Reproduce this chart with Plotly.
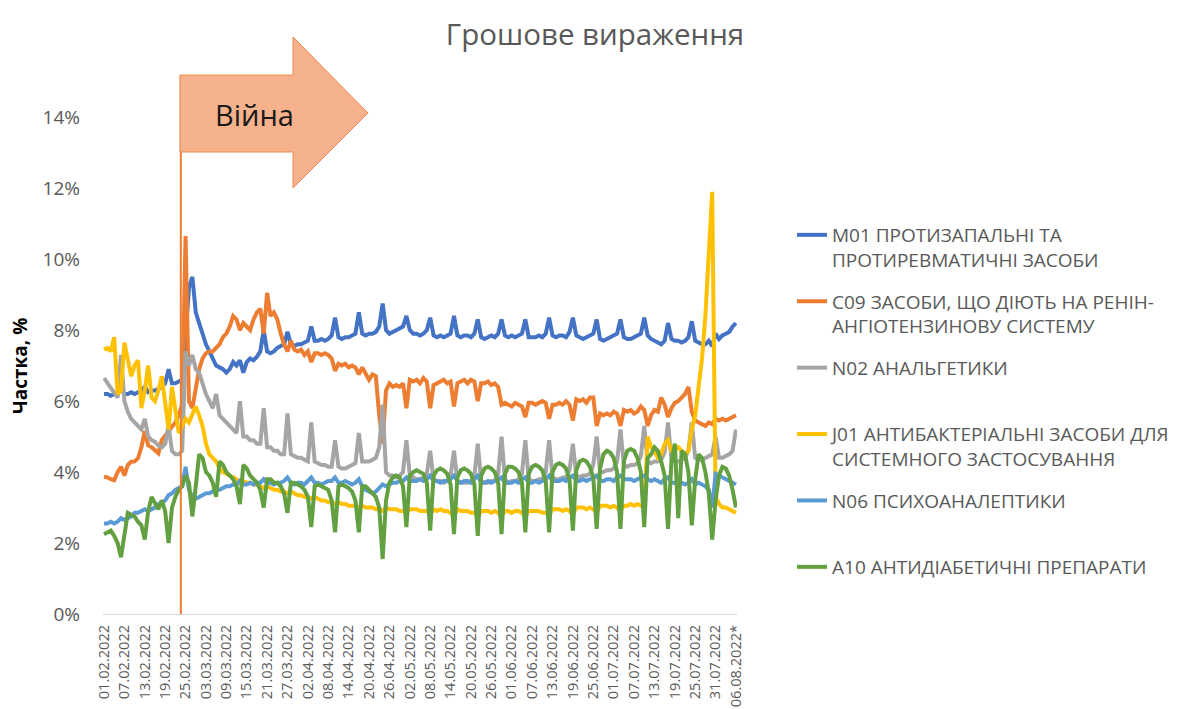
import pandas as pd
import plotly.graph_objects as go

# ---------------- data ----------------
DATES = [d.strftime("%d.%m.%Y") for d in pd.date_range("2022-02-01", "2022-08-06", freq="D")]
DATES[-1] = DATES[-1] + "*"

TICK_LABELS = ["01.02.2022", "07.02.2022", "13.02.2022", "19.02.2022", "25.02.2022", "03.03.2022",
               "09.03.2022", "15.03.2022", "21.03.2022", "27.03.2022", "02.04.2022", "08.04.2022",
               "14.04.2022", "20.04.2022", "26.04.2022", "02.05.2022", "08.05.2022", "14.05.2022",
               "20.05.2022", "26.05.2022", "01.06.2022", "07.06.2022", "13.06.2022", "19.06.2022",
               "25.06.2022", "01.07.2022", "07.07.2022", "13.07.2022", "19.07.2022", "25.07.2022",
               "31.07.2022", "06.08.2022*"]

M01 = [6.20, 6.20, 6.15, 6.20, 6.25, 6.35, 6.20,
       6.20, 6.25, 6.20, 6.25, 6.30, 6.40, 6.25,
       6.30, 6.30, 6.35, 6.40, 6.50, 6.90, 6.50,
       6.50, 6.55, 6.60, 7.80, 9.20, 9.50, 8.50,
       8.20, 7.90, 7.60, 7.40, 7.20, 7.00, 6.95,
       6.90, 6.80, 6.90, 7.10, 7.00, 7.15, 6.80,
       7.10, 7.20, 7.15, 7.25, 7.40, 8.00, 7.40,
       7.35, 7.40, 7.50, 7.55, 7.60, 7.95, 7.60,
       7.55, 7.60, 7.60, 7.65, 7.70, 8.10, 7.70,
       7.70, 7.75, 7.70, 7.75, 7.85, 8.35, 7.80,
       7.75, 7.80, 7.80, 7.85, 7.90, 8.50, 7.90,
       7.85, 7.90, 7.90, 7.95, 8.10, 8.75, 8.00,
       7.90, 7.95, 8.00, 8.05, 8.10, 8.40, 8.00,
       7.90, 7.90, 7.85, 7.90, 8.00, 8.35, 7.85,
       7.80, 7.85, 7.80, 7.85, 7.90, 8.40, 7.85,
       7.80, 7.85, 7.85, 7.80, 7.90, 8.30, 7.80,
       7.75, 7.80, 7.85, 7.80, 7.90, 8.30, 7.85,
       7.80, 7.85, 7.80, 7.85, 7.90, 8.30, 7.80,
       7.80, 7.80, 7.85, 7.80, 7.90, 8.35, 7.85,
       7.80, 7.85, 7.85, 7.80, 7.95, 8.35, 7.85,
       7.80, 7.75, 7.80, 7.85, 7.90, 8.30, 7.75,
       7.70, 7.75, 7.80, 7.85, 7.90, 8.30, 7.80,
       7.75, 7.75, 7.80, 7.85, 7.90, 8.35, 7.85,
       7.75, 7.70, 7.65, 7.60, 7.70, 8.20, 7.75,
       7.70, 7.70, 7.65, 7.70, 7.80, 8.25, 7.70,
       7.65, 7.60, 7.60, 7.70, 7.55, 7.90, 7.75,
       7.85, 7.90, 7.95, 8.10, 8.20]

C09 = [3.87, 3.85, 3.80, 3.77, 4.00, 4.15, 3.90,
       4.20, 4.29, 4.30, 4.39, 4.70, 5.15, 4.75,
       4.70, 4.62, 4.53, 4.90, 5.05, 5.15, 5.28,
       5.40, 5.60, 5.90, 10.65, 6.00, 5.80, 6.40,
       6.90, 7.20, 7.35, 7.40, 7.40, 7.50, 7.60,
       7.80, 7.90, 8.10, 8.40, 8.30, 8.00, 8.20,
       8.10, 8.00, 8.30, 8.50, 8.60, 7.90, 9.05,
       8.40, 8.50, 8.30, 7.90, 7.60, 7.40, 7.70,
       7.45, 7.40, 7.45, 7.30, 7.40, 7.10, 7.35,
       7.35, 7.30, 7.35, 7.30, 7.20, 6.85, 7.05,
       7.00, 7.05, 6.95, 7.00, 6.95, 6.75, 6.95,
       6.80, 6.60, 6.75, 6.70, 5.60, 4.80, 6.30,
       6.50, 6.40, 6.45, 6.40, 6.50, 5.80, 6.60,
       6.55, 6.60, 6.50, 6.65, 6.55, 5.80, 6.45,
       6.50, 6.55, 6.60, 6.50, 6.55, 5.85, 6.50,
       6.55, 6.60, 6.50, 6.60, 6.55, 6.00, 6.50,
       6.50, 6.55, 6.45, 6.50, 6.40, 5.90, 5.95,
       5.90, 5.85, 5.95, 5.90, 5.85, 5.55, 5.95,
       5.95, 5.90, 5.95, 6.00, 5.95, 5.50, 5.90,
       5.90, 5.95, 5.90, 6.00, 5.90, 5.45, 6.05,
       6.00, 6.05, 5.95, 6.10, 6.10, 5.30, 5.65,
       5.60, 5.65, 5.60, 5.70, 5.65, 5.30, 5.75,
       5.70, 5.75, 5.65, 5.70, 5.85, 5.75, 5.30,
       5.60, 5.75, 5.70, 6.10, 5.90, 5.55, 5.80,
       5.95, 6.00, 6.10, 6.20, 6.40, 5.70, 5.45,
       5.40, 5.35, 5.30, 5.40, 5.35, 5.50, 5.45,
       5.50, 5.45, 5.50, 5.55, 5.60]

N02 = [6.65, 6.50, 6.40, 6.20, 6.10, 7.30, 6.00,
       5.70, 5.50, 5.40, 5.30, 5.20, 5.50, 5.00,
       4.90, 4.85, 4.75, 4.70, 4.80, 5.30, 4.60,
       4.50, 4.50, 4.60, 7.40, 7.00, 7.30, 6.90,
       6.80, 6.50, 6.20, 6.00, 5.80, 6.20, 5.60,
       5.50, 5.40, 5.30, 5.20, 5.10, 6.00, 5.00,
       5.00, 4.90, 4.90, 4.80, 4.80, 5.80, 4.70,
       4.70, 4.60, 4.60, 4.50, 4.50, 5.65, 4.50,
       4.45, 4.40, 4.40, 4.35, 4.30, 5.40, 4.30,
       4.25, 4.20, 4.20, 4.15, 4.15, 4.90, 4.15,
       4.10, 4.10, 4.15, 4.20, 4.25, 5.10, 4.30,
       4.30, 4.30, 4.35, 4.40, 4.70, 5.90, 4.00,
       3.90, 3.90, 3.85, 3.90, 4.00, 4.90, 3.90,
       3.85, 3.80, 3.80, 3.85, 3.95, 4.60, 3.80,
       3.75, 3.75, 3.70, 3.75, 3.90, 4.60, 3.75,
       3.70, 3.70, 3.70, 3.75, 3.90, 4.80, 3.75,
       3.70, 3.70, 3.75, 3.75, 3.95, 5.00, 3.80,
       3.70, 3.75, 3.75, 3.80, 3.95, 4.90, 3.80,
       3.75, 3.75, 3.80, 3.80, 4.00, 4.90, 3.85,
       3.80, 3.80, 3.85, 3.85, 4.05, 4.80, 3.90,
       3.85, 3.90, 3.90, 3.95, 4.20, 5.00, 4.00,
       4.00, 4.05, 4.05, 4.10, 4.30, 5.20, 4.20,
       4.15, 4.20, 4.20, 4.25, 4.45, 5.30, 4.30,
       4.25, 4.30, 4.30, 4.35, 4.55, 5.40, 4.35,
       4.30, 4.30, 4.35, 4.40, 4.60, 5.40, 4.40,
       4.35, 4.35, 4.40, 4.45, 4.50, 5.00, 4.40,
       4.40, 4.45, 4.50, 4.60, 5.20]

J01 = [7.45, 7.50, 7.40, 7.80, 6.20, 6.30, 7.65,
       7.20, 6.70, 7.00, 7.15, 5.80, 6.30, 7.00,
       6.10, 6.00, 6.30, 6.70, 5.90, 5.20, 6.40,
       5.70, 5.10, 5.30, 5.50, 5.40, 5.60, 5.85,
       5.60, 5.30, 4.80, 4.50, 4.40, 4.30, 4.10,
       4.00, 3.95, 3.90, 3.85, 3.80, 3.70, 3.75,
       3.70, 3.70, 3.65, 3.65, 3.60, 3.55, 3.60,
       3.55, 3.50, 3.50, 3.45, 3.45, 3.40, 3.45,
       3.40, 3.35, 3.35, 3.30, 3.30, 3.25, 3.30,
       3.25, 3.20, 3.20, 3.15, 3.15, 3.10, 3.15,
       3.10, 3.10, 3.05, 3.05, 3.05, 3.00, 3.05,
       3.00, 3.00, 3.00, 2.95, 2.95, 2.90, 3.00,
       2.95, 2.95, 2.95, 2.90, 2.90, 2.85, 2.95,
       2.95, 2.95, 2.90, 2.90, 2.90, 2.80, 2.95,
       2.90, 2.95, 2.90, 2.90, 2.85, 2.75, 2.95,
       2.90, 2.90, 2.90, 2.85, 2.85, 2.75, 2.90,
       2.90, 2.90, 2.85, 2.90, 2.85, 2.75, 2.90,
       2.90, 2.85, 2.90, 2.90, 2.85, 2.75, 2.90,
       2.90, 2.90, 2.90, 2.85, 2.85, 2.80, 2.95,
       2.95, 2.95, 2.90, 2.95, 2.90, 2.80, 3.00,
       3.00, 3.00, 2.95, 3.00, 2.95, 2.85, 3.05,
       3.05, 3.05, 3.00, 3.05, 3.00, 2.90, 3.05,
       3.05, 3.10, 3.05, 3.10, 3.05, 3.00, 5.00,
       4.70, 4.60, 4.40, 4.50, 4.80, 4.90, 4.60,
       4.60, 4.70, 4.60, 4.50, 4.60, 5.20, 5.60,
       6.30, 7.20, 8.40, 10.00, 11.90, 3.30, 3.10,
       3.00, 3.00, 2.95, 2.90, 2.85]

N06 = [2.55, 2.55, 2.60, 2.55, 2.60, 2.70, 2.65,
       2.70, 2.75, 2.85, 2.85, 2.90, 2.95, 2.90,
       2.95, 3.00, 3.10, 3.15, 3.20, 3.35, 3.40,
       3.50, 3.55, 3.60, 4.15, 3.50, 3.30, 3.25,
       3.30, 3.35, 3.40, 3.40, 3.45, 3.50, 3.50,
       3.55, 3.60, 3.60, 3.65, 3.65, 3.75, 3.65,
       3.65, 3.70, 3.65, 3.70, 3.70, 3.80, 3.70,
       3.70, 3.65, 3.70, 3.70, 3.75, 3.85, 3.70,
       3.65, 3.70, 3.70, 3.65, 3.75, 3.85, 3.70,
       3.70, 3.65, 3.70, 3.75, 3.75, 3.85, 3.70,
       3.70, 3.75, 3.70, 3.65, 3.70, 3.80, 3.60,
       3.50, 3.45, 3.40, 3.45, 3.55, 3.65, 3.60,
       3.65, 3.70, 3.70, 3.75, 3.75, 3.85, 3.75,
       3.75, 3.75, 3.80, 3.75, 3.80, 3.90, 3.75,
       3.75, 3.70, 3.75, 3.75, 3.80, 3.90, 3.75,
       3.70, 3.75, 3.75, 3.70, 3.80, 3.90, 3.70,
       3.70, 3.75, 3.70, 3.75, 3.80, 3.85, 3.70,
       3.70, 3.70, 3.75, 3.70, 3.80, 3.85, 3.70,
       3.70, 3.75, 3.70, 3.75, 3.80, 3.90, 3.75,
       3.75, 3.75, 3.80, 3.75, 3.85, 3.90, 3.75,
       3.75, 3.80, 3.75, 3.80, 3.85, 3.90, 3.75,
       3.75, 3.80, 3.80, 3.75, 3.85, 3.90, 3.80,
       3.80, 3.80, 3.75, 3.80, 3.85, 3.90, 3.80,
       3.75, 3.80, 3.75, 3.70, 3.80, 3.85, 3.70,
       3.70, 3.65, 3.70, 3.65, 3.70, 3.80, 3.65,
       3.70, 3.65, 3.60, 3.50, 3.00, 3.95, 3.90,
       3.85, 3.80, 3.75, 3.70, 3.65]

A10 = [2.25, 2.30, 2.35, 2.20, 2.00, 1.60, 2.30,
       2.85, 2.80, 2.75, 2.60, 2.50, 2.10, 2.90,
       3.30, 3.10, 2.95, 3.20, 2.90, 2.00, 3.00,
       3.30, 3.50, 3.60, 3.90, 3.70, 2.75, 3.60,
       4.50, 4.40, 4.00, 3.90, 3.70, 3.30, 4.30,
       4.20, 4.00, 3.90, 3.80, 3.60, 3.10, 4.20,
       4.10, 3.90, 3.80, 3.70, 3.50, 3.00, 3.80,
       3.80, 3.70, 3.70, 3.60, 3.40, 2.85, 3.70,
       3.70, 3.65, 3.60, 3.50, 3.30, 2.45, 3.60,
       3.65, 3.60, 3.55, 3.50, 3.20, 2.30, 3.60,
       3.65, 3.60, 3.55, 3.45, 3.20, 2.30, 3.60,
       3.60, 3.50, 3.40, 3.30, 3.00, 1.55, 3.20,
       3.70, 3.85, 3.90, 3.85, 3.60, 2.45, 3.90,
       4.00, 4.05, 4.00, 3.95, 3.70, 2.35, 3.90,
       4.05, 4.10, 4.05, 3.95, 3.65, 2.25, 3.85,
       4.05, 4.10, 4.05, 3.95, 3.65, 2.20, 3.90,
       4.10, 4.15, 4.10, 4.00, 3.70, 2.25, 3.95,
       4.15, 4.15, 4.10, 4.00, 3.70, 2.30, 3.95,
       4.15, 4.20, 4.15, 4.05, 3.75, 2.30, 4.00,
       4.20, 4.25, 4.20, 4.10, 3.80, 2.35, 4.05,
       4.30, 4.35, 4.30, 4.15, 3.85, 2.40, 4.10,
       4.50, 4.60, 4.55, 4.40, 4.00, 2.40, 4.30,
       4.60, 4.65, 4.60, 4.40, 4.00, 2.45, 4.40,
       4.50, 4.70, 4.60, 4.30, 3.90, 2.40, 4.30,
       4.80, 2.70, 4.60, 4.50, 4.00, 2.50, 3.80,
       4.50, 4.40, 4.00, 3.40, 2.10, 3.20, 3.90,
       4.15, 4.10, 3.90, 3.50, 3.00]

SERIES = [
    ("M01 ПРОТИЗАПАЛЬНІ ТА<br>ПРОТИРЕВМАТИЧНІ ЗАСОБИ", M01, "#4472C4"),
    ("C09 ЗАСОБИ, ЩО ДІЮТЬ НА РЕНІН-<br>АНГІОТЕНЗИНОВУ СИСТЕМУ", C09, "#ED7D31"),
    ("N02 АНАЛЬГЕТИКИ<br> ", N02, "#A5A5A5"),
    ("J01 АНТИБАКТЕРІАЛЬНІ ЗАСОБИ ДЛЯ<br>СИСТЕМНОГО ЗАСТОСУВАННЯ", J01, "#FFC000"),
    ("N06 ПСИХОАНАЛЕПТИКИ<br> ", N06, "#5B9BD5"),
    ("A10 АНТИДІАБЕТИЧНІ ПРЕПАРАТИ<br> ", A10, "#62A041"),
]

WAR_START_INDEX = 22.6
TITLE = "Грошове вираження"
Y_TITLE = "Частка, %"
ARROW_TEXT = "Війна"

# ---------------- figure ----------------
FONT = "Open Sans"
GREY = "#595959"
OFF = 8  # page body margin offset

fig = go.Figure()
for name, vals, color in SERIES:
    fig.add_trace(go.Scatter(x=DATES, y=vals, mode="lines", name=name, legendgroup=name,
                             line=dict(color=color, width=4)))

# target plot area on page: x 103..737, y 64..614
W, H = 1180, 709
L = 103 - OFF
T = 64 - OFF
R = W - (737 - OFF)
B = H - (614 - OFF)
PW, PH = W - L - R, H - T - B


def px(xp):
    return (xp - OFF - L) / PW


def py(yp):
    return (H - B - (yp - OFF)) / PH


arrow_pts = [(180, 75), (293, 75), (293, 37), (368, 113), (293, 188), (293, 152), (180, 152)]
path = "M " + " L ".join(f"{px(a):.4f},{py(b):.4f}" for a, b in arrow_pts) + " Z"

fig.update_layout(
    width=W, height=H,
    margin=dict(l=L, r=R, t=T, b=B, autoexpand=False),
    paper_bgcolor="white", plot_bgcolor="white",
    font=dict(family=FONT, color=GREY),
    title=dict(text=TITLE, x=(595 - OFF) / W, xanchor="center", y=1 - (35 - OFF) / H,
               yanchor="middle", font=dict(size=29.5, color=GREY, family=FONT)),
    showlegend=True,
    legend=dict(x=px(792), xanchor="left", y=py(216), yanchor="top",
                font=dict(size=19, color=GREY, family=FONT),
                valign="top", tracegroupgap=14, bgcolor="rgba(0,0,0,0)",
                itemwidth=30),
    shapes=[
        dict(type="line", xref="x", yref="paper", x0=WAR_START_INDEX, x1=WAR_START_INDEX,
             y0=0, y1=py(75), line=dict(color="#ED7D31", width=2), layer="above"),
        dict(type="path", xref="paper", yref="paper", path=path,
             fillcolor="#F5B28D", line=dict(color="#EE8A50", width=1), layer="above"),
    ],
    annotations=[
        dict(text=ARROW_TEXT, xref="paper", yref="paper", x=px(254), y=py(114),
             showarrow=False, font=dict(size=29, color="#1a1a1a", family=FONT),
             xanchor="center", yanchor="middle"),
        dict(text=f"<b>{Y_TITLE}</b>", xref="paper", yref="paper", x=px(20), y=py(366),
             showarrow=False, textangle=-90, font=dict(size=19, color="black", family=FONT),
             xanchor="center", yanchor="middle"),
    ],
)

fig.update_xaxes(
    type="category",
    range=[-0.3, len(DATES) - 0.7],
    tickmode="array",
    tickvals=DATES[::6],
    ticktext=TICK_LABELS,
    tickangle=-90,
    tickfont=dict(size=14.6, color=GREY, family=FONT),
    showgrid=False, zeroline=False,
    showline=True, linecolor="#D9D9D9", linewidth=1,
    ticks="", automargin=False, ticklabelstandoff=4,
)

fig.update_yaxes(
    range=[0, 15.5],
    tickmode="array",
    tickvals=[0, 2, 4, 6, 8, 10, 12, 14],
    ticktext=["0%", "2%", "4%", "6%", "8%", "10%", "12%", "14%"],
    tickfont=dict(size=19, color=GREY, family=FONT),
    showgrid=False, zeroline=False, showline=False,
    ticks="", ticklabelstandoff=22, automargin=False,
)

fig.write_html("out.html")
